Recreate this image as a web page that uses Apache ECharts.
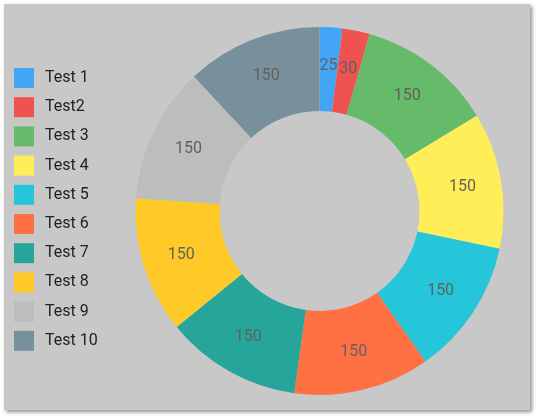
<!DOCTYPE html>
<html>
<head>
<meta charset="utf-8">
<script src="https://cdn.jsdelivr.net/npm/echarts@6/dist/echarts.min.js"></script>
<style>
html,body{margin:0;padding:0;background:#fff;width:539px;height:419px;overflow:hidden;}
#card{position:absolute;left:4px;top:4px;width:526px;height:406px;background:#c8c8c8;box-shadow:2px 2px 4px rgba(0,0,0,0.45);}
#chart{position:absolute;left:0;top:0;width:539px;height:419px;}
</style>
</head>
<body>
<div id="card"></div>
<div id="chart"></div>
<script>
var categories = ['Test 1','Test2','Test 3','Test 4','Test 5','Test 6','Test 7','Test 8','Test 9','Test 10'];
var values = [25,30,150,150,150,150,150,150,150,150];
var colors = ['#42a5f5','#ef5350','#66bb6a','#ffee58','#26c6da','#ff7043','#26a69a','#ffca28','#bdbdbd','#78909c'];

var chart = echarts.init(document.getElementById('chart'), null, {renderer:'canvas'});
chart.setOption({
  backgroundColor: 'transparent',
  color: colors,
  animation: false,
  legend: {
    orient: 'vertical',
    left: 9,
    top: 63,
    itemWidth: 20,
    itemHeight: 20,
    itemGap: 9.2,
    icon: 'rect',
    selectedMode: false,
    itemStyle: {borderWidth: 0},
    textStyle: {fontFamily: 'Roboto', fontSize: 16, color: '#222', padding: [0,0,0,6]},
    data: categories
  },
  series: [{
    type: 'pie',
    center: [319.5, 211],
    radius: [100, 184],
    startAngle: 90,
    clockwise: true,
    label: {
      show: true,
      position: 'inside',
      formatter: '{c}',
      fontFamily: 'Roboto',
      fontSize: 16,
      color: '#616161'
    },
    labelLine: {show: false},
    emphasis: {disabled: true},
    itemStyle: {borderWidth: 0},
    data: categories.map(function(n,i){return {name:n, value:values[i]};})
  }]
});
</script>
</body>
</html>
